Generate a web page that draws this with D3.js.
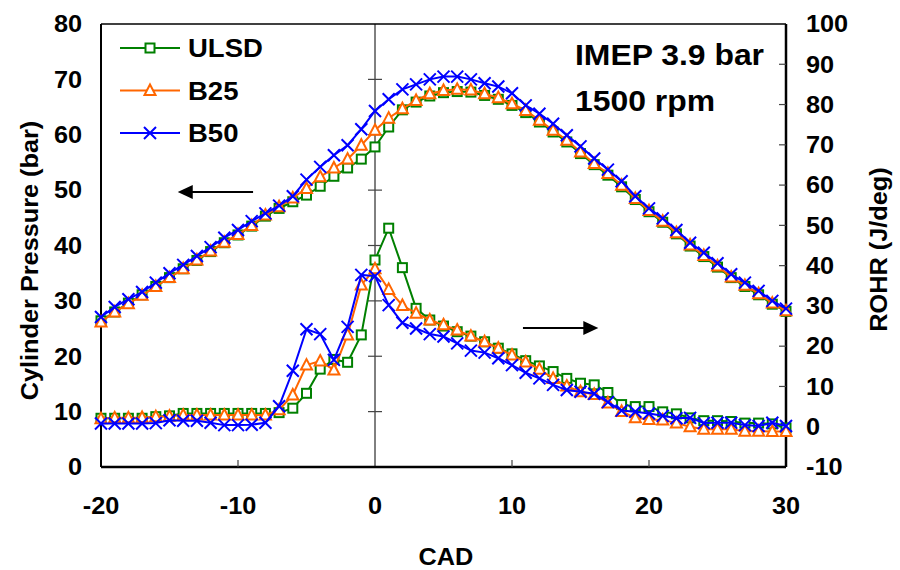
<!DOCTYPE html>
<html>
<head>
<meta charset="utf-8">
<script src="https://cdn.jsdelivr.net/npm/d3@7"></script>
<style>
  body { margin: 0; background: #fff; }
  text { font-family: "Liberation Sans", Arial, sans-serif; font-weight: bold; fill: #000; }
</style>
</head>
<body>
<svg id="chart" width="900" height="570"></svg>
<script>
// crank angle (CAD), one point per degree
var cad = d3.range(-20, 31);

// cylinder pressure (bar), left axis
var pressULSD = [26.4, 28.0, 29.6, 31.1, 32.6, 34.2, 35.8, 37.3, 38.9, 40.5, 41.9, 43.5, 45.3, 46.7, 47.9, 49.1,
  50.7, 52.5, 54.0, 55.6, 57.8, 61.4, 64.5, 65.9, 67.0, 67.6, 67.8, 67.7, 67.1, 66.4, 65.3, 64.0, 62.3, 60.5,
  58.7, 56.6, 54.6, 52.7, 50.6, 48.3, 46.1, 44.2, 42.1, 39.9, 38.0, 36.1, 34.2, 32.6, 31.1, 29.4, 28.1];
var pressB25 = [26.2, 28.0, 29.5, 31.0, 32.6, 34.2, 35.8, 37.4, 39.0, 40.6, 42.0, 43.6, 45.5, 47.0, 48.6, 50.3,
  52.4, 54.0, 55.6, 58.1, 60.8, 63.0, 64.7, 66.2, 67.4, 68.0, 68.2, 68.1, 67.4, 66.7, 65.6, 64.4, 62.6, 60.8,
  59.0, 56.9, 54.8, 53.0, 50.9, 48.5, 46.3, 44.4, 42.3, 40.1, 38.2, 36.3, 34.3, 32.8, 31.3, 29.6, 28.2];
var pressB50 = [27.1, 28.9, 30.3, 31.6, 33.3, 35.0, 36.5, 38.1, 39.7, 41.4, 42.8, 44.4, 45.8, 47.2, 48.9, 51.9,
  54.2, 56.3, 58.1, 61.0, 64.3, 66.4, 68.2, 69.1, 70.0, 70.5, 70.5, 70.0, 69.3, 68.7, 67.5, 65.3, 63.8, 62.0,
  59.9, 57.9, 55.7, 53.7, 51.6, 48.9, 46.7, 44.9, 42.8, 40.5, 38.7, 36.8, 34.8, 33.3, 31.8, 30.0, 28.6];

// rate of heat release (J/deg), right axis
var rohrULSD = [2.1, 2.1, 2.1, 2.1, 2.5, 2.7, 3.3, 3.3, 3.3, 3.3, 3.3, 3.3, 3.3, 3.5, 4.6, 8.3, 14.3, 16.7,
  16.0, 22.8, 41.4, 49.3, 39.5, 29.4, 26.5, 25.0, 23.6, 22.5, 21.1, 19.5, 18.1, 16.4, 15.1, 13.7, 12.0, 10.8,
  10.4, 8.5, 5.5, 5.0, 5.0, 3.7, 3.2, 2.2, 1.5, 1.5, 1.3, 0.9, 0.9, 0.7, -0.3];
var rohrB25 = [2.0, 2.2, 2.2, 2.3, 2.5, 2.6, 2.9, 2.9, 2.9, 2.9, 2.9, 2.9, 2.9, 4.2, 7.9, 15.3, 16.3, 14.1,
  22.8, 35.2, 39.2, 34.1, 30.1, 28.2, 26.5, 25.3, 24.0, 22.5, 21.1, 19.5, 17.8, 16.1, 14.3, 12.0, 10.1, 8.7,
  8.0, 5.9, 3.8, 2.2, 1.8, 1.7, 0.9, 0.0, -0.6, -0.6, -0.6, -1.1, -1.1, -1.2, -1.2];
var rohrB50 = [0.8, 0.8, 0.8, 0.8, 0.9, 1.6, 1.5, 1.5, 1.0, 0.4, 0.4, 0.5, 1.0, 5.1, 13.9, 24.2, 23.0, 16.6,
  24.8, 37.7, 37.4, 30.2, 25.8, 24.4, 23.0, 22.4, 20.7, 18.9, 18.4, 17.0, 15.3, 13.4, 12.0, 10.4, 9.1, 8.7,
  8.2, 6.1, 4.0, 3.7, 3.3, 2.7, 2.1, 2.2, 0.9, 1.0, 1.0, 0.4, 0.2, 1.0, 0.2];

// labels and ticks
var seriesNames = ["ULSD", "B25", "B50"];
var xTicks = [-20, -10, 0, 10, 20, 30];
var leftTicks = [0, 10, 20, 30, 40, 50, 60, 70, 80];
var rightTicks = [-10, 0, 10, 20, 30, 40, 50, 60, 70, 80, 90, 100];
var notes = ["IMEP 3.9 bar", "1500 rpm"];

var colors = ["#008000", "#ff6600", "#0000ff"];
var shapes = ["square", "triangle", "cross"];

// plot area
var margin = {top: 24, right: 114, bottom: 103, left: 101},
  width = 900 - margin.left - margin.right,
  height = 570 - margin.top - margin.bottom;

var svg = d3.select("#chart")
  .append("g")
  .attr("transform", "translate(" + margin.left + "," + margin.top + ")");

var x = d3.scaleLinear().domain([-20, 30]).range([0, width]);
var yL = d3.scaleLinear().domain([0, 80]).range([height, 0]);
var yR = d3.scaleLinear().domain([-10, 100]).range([height, 0]);

// the original text is a little wider than the font, so stretch it
function stretch(sel, rot) {
  sel.attr("transform", function() {
    var t = d3.select(this);
    return "translate(" + t.attr("x") + "," + t.attr("y") + ")" + (rot ? " rotate(-90)" : "") + " scale(1.1,1)";
  })
  .attr("x", 0).attr("y", 0);
}

// plot border (left, top)
svg.append("line").attr("x1", 0).attr("x2", 0).attr("y1", 0).attr("y2", height)
  .attr("stroke", "#000").attr("stroke-width", 2);
svg.append("line").attr("x1", 0).attr("x2", width).attr("y1", 0).attr("y2", 0)
  .attr("stroke", "#000").attr("stroke-width", 1.5);

// primary y axis line crosses at CAD = 0, with cross ticks
svg.append("line").attr("x1", x(0)).attr("x2", x(0)).attr("y1", 0).attr("y2", height)
  .attr("stroke", "#000").attr("stroke-width", 1);
svg.selectAll(".ctick")
  .data(leftTicks.filter(function(d) { return d > 0 && d < 80; }))
  .enter().append("line")
  .attr("x1", x(0) - 7).attr("x2", x(0) + 7)
  .attr("y1", function(d) { return yL(d); })
  .attr("y2", function(d) { return yL(d); })
  .attr("stroke", "#444").attr("stroke-width", 1.2);

// left tick labels
svg.selectAll(".ltext")
  .data(leftTicks)
  .enter().append("text")
  .attr("x", -19)
  .attr("y", function(d) { return yL(d); })
  .attr("dy", "0.36em")
  .attr("text-anchor", "end")
  .style("font-size", "23px")
  .text(function(d) { return d; })
  .call(stretch);

// bottom axis
svg.append("line").attr("x1", 0).attr("x2", width).attr("y1", height).attr("y2", height)
  .attr("stroke", "#000").attr("stroke-width", 2.5);
svg.selectAll(".btick")
  .data(xTicks.filter(function(d) { return d != -20 && d != 0 && d != 30; }))
  .enter().append("line")
  .attr("x1", function(d) { return x(d); })
  .attr("x2", function(d) { return x(d); })
  .attr("y1", height).attr("y2", height - 7)
  .attr("stroke", "#444").attr("stroke-width", 1.2);
svg.selectAll(".btext")
  .data(xTicks)
  .enter().append("text")
  .attr("x", function(d) { return x(d); })
  .attr("y", height + 47)
  .attr("text-anchor", "middle")
  .style("font-size", "23px")
  .text(function(d) { return d; })
  .call(stretch);

// right axis
svg.append("line").attr("x1", width).attr("x2", width).attr("y1", 0).attr("y2", height)
  .attr("stroke", "#000").attr("stroke-width", 2.5);
svg.selectAll(".rtick")
  .data(rightTicks.filter(function(d) { return d > -10 && d < 100; }))
  .enter().append("line")
  .attr("x1", width - 7).attr("x2", width)
  .attr("y1", function(d) { return yR(d); })
  .attr("y2", function(d) { return yR(d); })
  .attr("stroke", "#444").attr("stroke-width", 1.2);
svg.selectAll(".rtext")
  .data(rightTicks)
  .enter().append("text")
  .attr("x", width + 20)
  .attr("y", function(d) { return yR(d); })
  .attr("dy", "0.36em")
  .style("font-size", "23px")
  .text(function(d) { return d; })
  .call(stretch);

// axis titles
svg.append("text")
  .attr("x", -63).attr("y", height / 2 + 15)
  .attr("text-anchor", "middle")
  .style("font-size", "23px")
  .text("Cylinder Pressure (bar)")
  .call(stretch, true);
svg.append("text")
  .attr("x", width + 101).attr("y", height / 2 + 4)
  .attr("text-anchor", "middle")
  .style("font-size", "23px")
  .text("ROHR (J/deg)")
  .call(stretch, true);
svg.append("text")
  .attr("x", 345)
  .attr("y", height + 98)
  .attr("text-anchor", "middle")
  .style("font-size", "23px")
  .text("CAD")
  .call(stretch);

// marker drawing helper
function drawMarker(g, shape, color) {
  if (shape == "square") {
    g.append("rect").attr("x", -4.5).attr("y", -4.5).attr("width", 9).attr("height", 9)
      .attr("fill", "#fff").attr("stroke", color).attr("stroke-width", 2);
  } else if (shape == "triangle") {
    g.append("path").attr("d", "M0,-6L5.5,4.5L-5.5,4.5Z")
      .attr("fill", "#fff").attr("stroke", color).attr("stroke-width", 2);
  } else {
    g.append("path").attr("d", "M-6,-6L6,6M-6,6L6,-6")
      .attr("fill", "none").attr("stroke", color).attr("stroke-width", 2);
  }
}

// draw one series
function drawSeries(values, yScale, i) {
  var pts = cad.map(function(c, k) { return [c, values[k]]; });
  var line = d3.line()
    .x(function(d) { return x(d[0]); })
    .y(function(d) { return yScale(d[1]); });

  svg.append("path")
    .datum(pts)
    .attr("d", line)
    .attr("fill", "none")
    .attr("stroke", colors[i])
    .attr("stroke-width", 2);

  svg.append("g").selectAll("g")
    .data(pts)
    .enter().append("g")
    .attr("transform", function(d) { return "translate(" + x(d[0]) + "," + yScale(d[1]) + ")"; })
    .each(function() { drawMarker(d3.select(this), shapes[i], colors[i]); });
}

var pressSets = [pressULSD, pressB25, pressB50];
var rohrSets = [rohrULSD, rohrB25, rohrB50];
pressSets.forEach(function(s, i) { drawSeries(s, yL, i); });
rohrSets.forEach(function(s, i) { drawSeries(s, yR, i); });

// legend
var legend = svg.selectAll(".legend")
  .data(seriesNames)
  .enter().append("g")
  .attr("transform", function(d, i) { return "translate(19," + (24 + i * 42.5) + ")"; });
legend.append("line")
  .attr("x1", 0).attr("x2", 60)
  .attr("stroke", function(d, i) { return colors[i]; })
  .attr("stroke-width", 2);
legend.each(function(d, i) {
  var m = d3.select(this).append("g").attr("transform", "translate(30,0)");
  drawMarker(m, shapes[i], colors[i]);
});
legend.append("text")
  .attr("x", 68)
  .attr("y", 0)
  .attr("dy", "0.36em")
  .style("font-size", "25px")
  .text(function(d) { return d; })
  .call(stretch);

// annotation text
svg.selectAll(".note")
  .data(notes)
  .enter().append("text")
  .attr("x", 474)
  .attr("y", function(d, i) { return 41 + i * 46; })
  .style("font-size", "29px")
  .text(function(d) { return d; })
  .call(stretch);

// arrows pointing to each axis
function arrow(x1, x2, y) {
  var dir = x2 < x1 ? 1 : -1;
  svg.append("line")
    .attr("x1", x1).attr("x2", x2 + dir * 12).attr("y1", y).attr("y2", y)
    .attr("stroke", "#000").attr("stroke-width", 2);
  svg.append("path")
    .attr("d", "M" + x2 + "," + y + "L" + (x2 + dir * 15) + "," + (y - 7) +
      "L" + (x2 + dir * 15) + "," + (y + 7) + "Z")
    .attr("fill", "#000");
}
arrow(x(-8.9), x(-14.4), 168);
arrow(x(10.8), x(16.3), 304);
</script>
</body>
</html>
